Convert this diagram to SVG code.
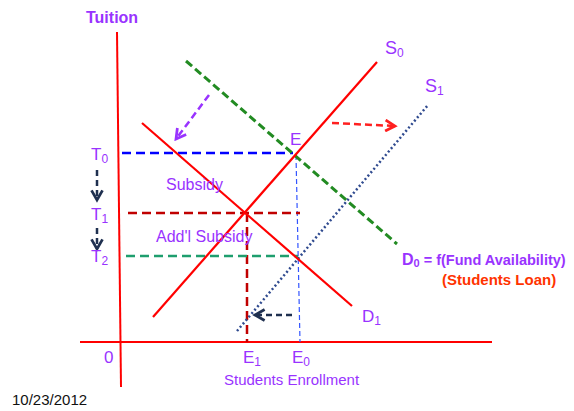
<svg xmlns="http://www.w3.org/2000/svg" width="574" height="411" viewBox="0 0 574 411">
<defs>
<style>
.lbl{font-family:"Liberation Sans",Arial,sans-serif;fill:#9933FF;}
.ax{stroke:#FF0000;stroke-width:2;fill:none;}
.curve{stroke:#FF0000;stroke-width:2.2;fill:none;}
</style>
<marker id="hNavy" viewBox="0 0 10 10" refX="8" refY="5" markerWidth="5.5" markerHeight="5.5" orient="auto"><path d="M1,1 L8,5 L1,9" fill="none" stroke="#1F3050" stroke-width="2"/></marker>
<marker id="hPurple" viewBox="0 0 10 10" refX="8" refY="5" markerWidth="5.5" markerHeight="5.5" orient="auto"><path d="M1,1 L8,5 L1,9" fill="none" stroke="#9933FF" stroke-width="2"/></marker>
<marker id="hRed" viewBox="0 0 10 10" refX="8" refY="5" markerWidth="5.5" markerHeight="5.5" orient="auto"><path d="M1,1 L8,5 L1,9" fill="none" stroke="#FF2020" stroke-width="2"/></marker>
</defs>
<rect width="574" height="411" fill="#FFFFFF"/>
<g id="axes">
<line class="ax" x1="117" y1="32" x2="121" y2="387"/>
<line class="ax" x1="80" y1="342" x2="492" y2="342"/>
</g>
<g id="connectors">
<line x1="122" y1="153" x2="293" y2="153" stroke="#0000FF" stroke-width="2.5" stroke-dasharray="9,5"/>
<line x1="296" y1="155" x2="300" y2="342" stroke="#3355FF" stroke-width="1.2" stroke-dasharray="5,3"/>
<line x1="128" y1="213" x2="300" y2="213" stroke="#C00000" stroke-width="2.5" stroke-dasharray="9,5"/>
<line x1="247" y1="213" x2="247" y2="342" stroke="#C00000" stroke-width="2.5" stroke-dasharray="9,5"/>
<line x1="126" y1="256" x2="298" y2="256" stroke="#1E9E6E" stroke-width="2.5" stroke-dasharray="9,5"/>
<line x1="186" y1="61" x2="397" y2="244" stroke="#228B22" stroke-width="3" stroke-dasharray="8,4"/>
<line x1="237" y1="331" x2="428" y2="105" stroke="#2F4A8F" stroke-width="2.5" stroke-dasharray="2,2.5"/>
<line x1="97" y1="170" x2="97" y2="200" stroke="#1F3050" stroke-width="2.5" stroke-dasharray="6,4" marker-end="url(#hNavy)"/>
<line x1="97" y1="228" x2="97" y2="249" stroke="#1F3050" stroke-width="2.5" stroke-dasharray="6,4" marker-end="url(#hNavy)"/>
<line x1="209" y1="95" x2="176" y2="139" stroke="#9933FF" stroke-width="2.5" stroke-dasharray="7,4" marker-end="url(#hPurple)"/>
<line x1="332" y1="123" x2="395" y2="126" stroke="#FF2020" stroke-width="2.5" stroke-dasharray="7,4" marker-end="url(#hRed)"/>
<line x1="292" y1="315" x2="255" y2="315" stroke="#1F3050" stroke-width="2.5" stroke-dasharray="6,4" marker-end="url(#hNavy)"/>
</g>
<g id="S0"><line class="curve" x1="153" y1="317" x2="377" y2="62"/></g>
<g id="D1"><line class="curve" x1="142" y1="123" x2="352" y2="306"/></g>
<g id="labels">
<text class="lbl" x="86" y="23" font-size="16" font-weight="bold">Tuition</text>
<text class="lbl" x="385" y="54" font-size="18">S<tspan font-size="12" dy="3">0</tspan></text>
<text class="lbl" x="425" y="92" font-size="18">S<tspan font-size="12" dy="3">1</tspan></text>
<text class="lbl" x="290" y="145" font-size="17">E</text>
<text class="lbl" x="91" y="160" font-size="17">T<tspan font-size="12" dy="3">0</tspan></text>
<text class="lbl" x="91" y="220" font-size="17">T<tspan font-size="12" dy="3">1</tspan></text>
<text class="lbl" x="91" y="262" font-size="17">T<tspan font-size="12" dy="3">2</tspan></text>
<text class="lbl" x="166" y="190" font-size="16">Subsidy</text>
<text class="lbl" x="156" y="242" font-size="16">Add'l Subsidy</text>
<text class="lbl" x="402" y="265" font-size="16" font-weight="bold">D<tspan font-size="11" dy="2">0</tspan><tspan dy="-2" font-size="14.5"> = f(Fund Availability)</tspan></text>
<text x="442" y="285" font-family="Liberation Sans,Arial,sans-serif" font-size="15" font-weight="bold" fill="#FF3300">(Students Loan)</text>
<text class="lbl" x="224" y="385" font-size="15">Students Enrollment</text>
<text class="lbl" x="362" y="322" font-size="17">D<tspan font-size="12" dy="3">1</tspan></text>
<text class="lbl" x="104" y="363" font-size="17">0</text>
<text class="lbl" x="243" y="363" font-size="17">E<tspan font-size="12" dy="3">1</tspan></text>
<text class="lbl" x="292" y="363" font-size="17">E<tspan font-size="12" dy="3">0</tspan></text>
<text x="12" y="405" font-family="Liberation Sans,Arial,sans-serif" font-size="15" fill="#111111">10/23/2012</text>
</g>
</svg>
